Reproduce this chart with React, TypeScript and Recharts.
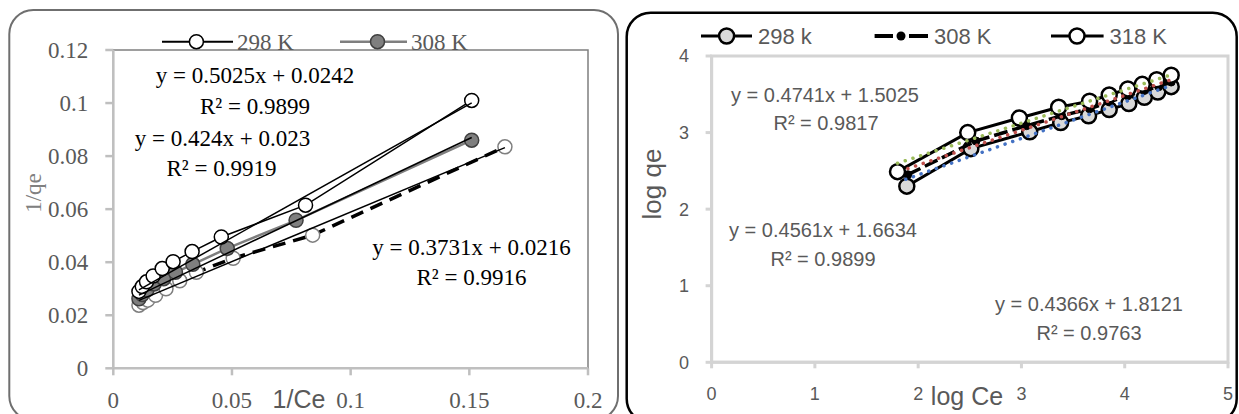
import React from 'react';
import { ScatterChart, Scatter, XAxis, YAxis, ReferenceArea } from 'recharts';

// ---------- Left chart (Langmuir: 1/qe vs 1/Ce) ----------
const leftSeriesNames = ['298 K', '308 K'];
const leftXTicks = [0, 0.05, 0.1, 0.15, 0.2];
const leftYTicks = [0, 0.02, 0.04, 0.06, 0.08, 0.1, 0.12];

const left298X = [0.0108, 0.0122, 0.014, 0.0168, 0.0206, 0.0252, 0.0332, 0.0455, 0.081, 0.151];
const left298Y = [0.029, 0.0308, 0.0326, 0.0348, 0.0376, 0.0402, 0.044, 0.0495, 0.0615, 0.101];
const left308X = [0.0108, 0.0122, 0.0142, 0.0172, 0.0212, 0.0262, 0.0335, 0.048, 0.077, 0.151];
const left308Y = [0.0262, 0.0278, 0.0295, 0.0318, 0.0338, 0.0362, 0.0392, 0.0452, 0.0558, 0.086];
const left318X = [0.0108, 0.0125, 0.0145, 0.0178, 0.0222, 0.028, 0.035, 0.0505, 0.084, 0.165];
const left318Y = [0.0238, 0.0248, 0.0257, 0.0275, 0.03, 0.033, 0.0362, 0.0415, 0.0502, 0.0835];

const leftTrend298X = [0.0108, 0.151];
const leftTrend298Y = [0.0296, 0.1001];
const leftTrend308X = [0.0108, 0.151];
const leftTrend308Y = [0.0276, 0.087];
const leftTrend318X = [0.0108, 0.165];
const leftTrend318Y = [0.0256, 0.0832];

const leftEquations = [
  'y = 0.5025x + 0.0242',
  'R² = 0.9899',
  'y = 0.424x + 0.023',
  'R² = 0.9919',
  'y = 0.3731x + 0.0216',
  'R² = 0.9916',
];

// ---------- Right chart (Freundlich: log qe vs log Ce) ----------
const rightSeriesNames = ['298 k', '308 K', '318 K'];
const rightXTicks = [0, 1, 2, 3, 4, 5];
const rightYTicks = [0, 1, 2, 3, 4];

const right298X = [1.89, 2.51, 3.08, 3.38, 3.65, 3.85, 4.04, 4.19, 4.32, 4.45];
const right298Y = [2.3, 2.79, 3.01, 3.13, 3.22, 3.3, 3.38, 3.46, 3.53, 3.6];
const right308X = [1.9, 2.56, 3.05, 3.39, 3.66, 3.85, 4.03, 4.19, 4.33, 4.45];
const right308Y = [2.45, 2.89, 3.09, 3.22, 3.31, 3.4, 3.48, 3.55, 3.6, 3.66];
const right318X = [1.8, 2.48, 2.98, 3.36, 3.66, 3.85, 4.03, 4.17, 4.31, 4.45];
const right318Y = [2.49, 3.0, 3.19, 3.33, 3.41, 3.49, 3.57, 3.63, 3.69, 3.75];

const rightTrend298X = [1.88, 4.46];
const rightTrend298Y = [2.39, 3.62];
const rightTrend308X = [1.9, 4.45];
const rightTrend308Y = [2.53, 3.69];
const rightTrend318X = [1.8, 4.45];
const rightTrend318Y = [2.6, 3.755];

const rightEquations = [
  'y = 0.4741x + 1.5025',
  'R² = 0.9817',
  'y = 0.4561x + 1.6634',
  'R² = 0.9899',
  'y = 0.4366x + 1.8121',
  'R² = 0.9763',
];

const SERIF = "'Liberation Serif', 'Times New Roman', serif";
const SANS = "'Liberation Sans', Arial, sans-serif";

const pts = (xs: number[], ys: number[]) => xs.map((x, i) => ({ x, y: ys[i] }));

const circleShape = (r: number, fill: string, stroke: string, sw: number) => (p: any) => (
  <circle cx={p.cx} cy={p.cy} r={r} fill={fill} stroke={stroke} strokeWidth={sw} />
);
const noShape = () => <g />;

function LeftChart() {
  return (
    <ScatterChart width={620} height={414} margin={{ top: 50, right: 32, bottom: 0, left: 0 }}>
      <ReferenceArea x1={0} x2={0.2} y1={0} y2={0.12} stroke="#7f7f7f" strokeWidth={1.5} fill="none" fillOpacity={0} />
      <XAxis
        type="number"
        dataKey="x"
        domain={[0, 0.2]}
        ticks={leftXTicks}
        interval={0}
        allowDataOverflow
        height={45.7}
        stroke="#bfbfbf"
        strokeWidth={2.5}
        tickSize={7}
        tickMargin={16}
        tick={{ fill: '#595959', fontSize: 23, fontFamily: SERIF }}
      />
      <YAxis
        type="number"
        dataKey="y"
        domain={[0, 0.12]}
        ticks={leftYTicks}
        interval={0}
        allowDataOverflow
        width={113.3}
        stroke="#bfbfbf"
        strokeWidth={2.5}
        tickSize={8}
        tickMargin={17}
        tick={{ fill: '#595959', fontSize: 23, fontFamily: SERIF }}
      />
      <Scatter
        data={pts(left318X, left318Y)}
        isAnimationActive={false}
        line={{ stroke: '#000', strokeWidth: 3.5, strokeDasharray: '13 8' }}
        lineType="joint"
        shape={circleShape(7, '#fff', '#7f7f7f', 1.5)}
      />
      <Scatter
        data={pts(left308X, left308Y)}
        isAnimationActive={false}
        line={{ stroke: '#7f7f7f', strokeWidth: 2.5 }}
        lineType="joint"
        shape={circleShape(7, '#7f7f7f', '#404040', 1.5)}
      />
      <Scatter
        data={pts(left298X, left298Y)}
        isAnimationActive={false}
        line={{ stroke: '#000', strokeWidth: 1.5 }}
        lineType="joint"
        shape={circleShape(7, '#fff', '#000', 1.5)}
      />
      <Scatter data={pts(leftTrend298X, leftTrend298Y)} isAnimationActive={false} line={{ stroke: '#000', strokeWidth: 1.5 }} lineType="joint" shape={noShape} />
      <Scatter data={pts(leftTrend308X, leftTrend308Y)} isAnimationActive={false} line={{ stroke: '#000', strokeWidth: 1.5 }} lineType="joint" shape={noShape} />
      <Scatter data={pts(leftTrend318X, leftTrend318Y)} isAnimationActive={false} line={{ stroke: '#000', strokeWidth: 1.5 }} lineType="joint" shape={noShape} />
    </ScatterChart>
  );
}

function RightChart() {
  return (
    <ScatterChart width={619} height={414} margin={{ top: 56, right: 11, bottom: 0, left: 0 }}>
      <ReferenceArea x1={0} x2={5} y1={0} y2={4} stroke="#d4d4d4" strokeWidth={3} fill="none" fillOpacity={0} />
      <XAxis
        type="number"
        dataKey="x"
        domain={[0, 5]}
        ticks={rightXTicks}
        interval={0}
        allowDataOverflow
        height={51.7}
        stroke="#d4d4d4"
        strokeWidth={3}
        tickSize={6}
        tickMargin={18.5}
        tick={{ fill: '#595959', fontSize: 18, fontFamily: SANS }}
      />
      <YAxis
        type="number"
        dataKey="y"
        domain={[0, 4]}
        ticks={rightYTicks}
        interval={0}
        allowDataOverflow
        width={91.6}
        stroke="#d4d4d4"
        strokeWidth={3}
        tickSize={6}
        tickMargin={16.5}
        tick={{ fill: '#595959', fontSize: 18, fontFamily: SANS }}
      />
      <Scatter
        data={pts(right298X, right298Y)}
        isAnimationActive={false}
        line={{ stroke: '#000', strokeWidth: 3 }}
        lineType="joint"
        shape={circleShape(7.5, '#d9d9d9', '#000', 2.5)}
      />
      <Scatter
        data={pts(right308X, right308Y)}
        isAnimationActive={false}
        line={{ stroke: '#000', strokeWidth: 3.5, strokeDasharray: '14 5' }}
        lineType="joint"
        shape={circleShape(4, '#000', '#000', 1)}
      />
      <Scatter
        data={pts(right318X, right318Y)}
        isAnimationActive={false}
        line={{ stroke: '#000', strokeWidth: 3 }}
        lineType="joint"
        shape={circleShape(7.5, '#fff', '#000', 2.5)}
      />
      <Scatter data={pts(rightTrend298X, rightTrend298Y)} isAnimationActive={false} line={{ stroke: '#4472c4', strokeWidth: 3.5, strokeDasharray: '0.1 8', strokeLinecap: 'round' }} lineType="joint" shape={noShape} />
      <Scatter data={pts(rightTrend308X, rightTrend308Y)} isAnimationActive={false} line={{ stroke: '#c0504d', strokeWidth: 3.5, strokeDasharray: '0.1 8', strokeLinecap: 'round' }} lineType="joint" shape={noShape} />
      <Scatter data={pts(rightTrend318X, rightTrend318Y)} isAnimationActive={false} line={{ stroke: '#9bbb59', strokeWidth: 3.5, strokeDasharray: '0.1 8', strokeLinecap: 'round' }} lineType="joint" shape={noShape} />
    </ScatterChart>
  );
}

function Overlay() {
  return (
    <svg width={1239} height={414} style={{ position: 'absolute', left: 0, top: 0, pointerEvents: 'none' }}>
      {/* panel borders */}
      <rect x={9.3} y={10} width={608.7} height={410} rx={24} ry={24} fill="none" stroke="#6f6f6f" strokeWidth={2} />
      <rect x={626.7} y={12.7} width={610} height={410} rx={24} ry={24} fill="none" stroke="#000" strokeWidth={2.5} />

      {/* left legend */}
      <line x1={162} y1={41.7} x2={233} y2={41.7} stroke="#000" strokeWidth={2} />
      <circle cx={196.4} cy={41.7} r={7} fill="#fff" stroke="#000" strokeWidth={1.5} />
      <text x={237} y={49.5} fontFamily={SERIF} fontSize={23} fill="#595959">{leftSeriesNames[0]}</text>
      <line x1={340} y1={41.7} x2={407} y2={41.7} stroke="#7f7f7f" strokeWidth={2.5} />
      <circle cx={377.5} cy={41.7} r={7} fill="#7f7f7f" stroke="#404040" strokeWidth={1.5} />
      <text x={411} y={49.5} fontFamily={SERIF} fontSize={23} fill="#595959">{leftSeriesNames[1]}</text>

      {/* left equations */}
      <g fontFamily={SERIF} fontSize={23} fill="#000" textAnchor="middle">
        <text x={255} y={83}>{leftEquations[0]}</text>
        <text x={255} y={114}>{leftEquations[1]}</text>
        <text x={222.5} y={146}>{leftEquations[2]}</text>
        <text x={221.5} y={176}>{leftEquations[3]}</text>
        <text x={471.5} y={254.5}>{leftEquations[4]}</text>
        <text x={471.5} y={285}>{leftEquations[5]}</text>
      </g>

      {/* left axis titles */}
      <text transform="translate(41,193) rotate(-90)" textAnchor="middle" fontFamily={SERIF} fontSize={23} fill="#808080">1/qe</text>
      <text x={299} y={408} textAnchor="middle" fontFamily={SANS} fontSize={25} fill="#595959">1/Ce</text>

      {/* right legend */}
      <line x1={701} y1={36} x2={752} y2={36} stroke="#000" strokeWidth={3} />
      <circle cx={726.6} cy={36} r={7.5} fill="#d9d9d9" stroke="#000" strokeWidth={2.5} />
      <text x={758} y={44} fontFamily={SANS} fontSize={22} fill="#595959">{rightSeriesNames[0]}</text>
      <line x1={874.6} y1={36} x2={893} y2={36} stroke="#000" strokeWidth={4} />
      <line x1={909} y1={36} x2={928} y2={36} stroke="#000" strokeWidth={4} />
      <circle cx={901} cy={36} r={4.5} fill="#000" />
      <text x={934} y={44} fontFamily={SANS} fontSize={22} fill="#595959">{rightSeriesNames[1]}</text>
      <line x1={1051} y1={36} x2={1103.6} y2={36} stroke="#000" strokeWidth={3} />
      <circle cx={1077} cy={36} r={7.5} fill="#fff" stroke="#000" strokeWidth={2.5} />
      <text x={1109.5} y={44} fontFamily={SANS} fontSize={22} fill="#595959">{rightSeriesNames[2]}</text>

      {/* right equations */}
      <g fontFamily={SANS} fontSize={20} fill="#595959" textAnchor="middle">
        <text x={825} y={101.5}>{rightEquations[0]}</text>
        <text x={826} y={130}>{rightEquations[1]}</text>
        <text x={823} y={237}>{rightEquations[2]}</text>
        <text x={823} y={265.5}>{rightEquations[3]}</text>
        <text x={1089} y={311}>{rightEquations[4]}</text>
        <text x={1089} y={340}>{rightEquations[5]}</text>
      </g>

      {/* right axis titles */}
      <text transform="translate(661,184) rotate(-90)" textAnchor="middle" fontFamily={SANS} fontSize={26} fill="#595959">log qe</text>
      <text x={967} y={405} textAnchor="middle" fontFamily={SANS} fontSize={25} fill="#595959">log Ce</text>
    </svg>
  );
}

export default function App() {
  return (
    <div style={{ position: 'absolute', left: 0, top: 0, width: 1239, height: 414, background: '#fff', overflow: 'hidden' }}>
      <div style={{ position: 'absolute', left: 0, top: 0 }}>
        <LeftChart />
      </div>
      <div style={{ position: 'absolute', left: 620, top: 0 }}>
        <RightChart />
      </div>
      <Overlay />
    </div>
  );
}
